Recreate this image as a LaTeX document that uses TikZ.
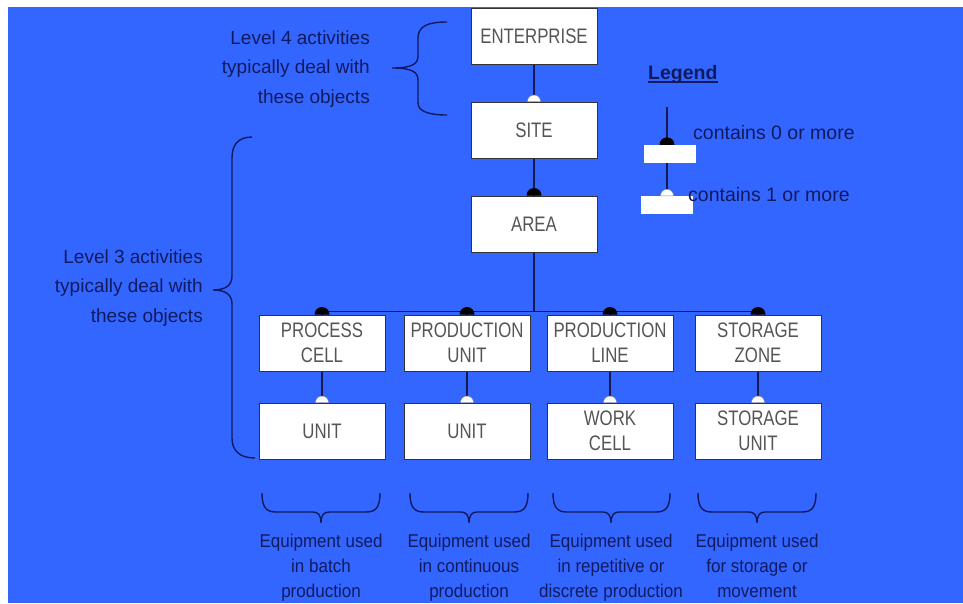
\documentclass[tikz,border=0pt]{standalone}
\usepackage{fontspec}
\setmainfont{Liberation Sans}
\newfontfamily\boxfont[FakeStretch=0.8]{Liberation Sans}
\newfontfamily\notefont[FakeStretch=0.92]{Liberation Sans}
\definecolor{bg}{RGB}{51,102,255}
\definecolor{ink}{RGB}{18,26,95}
\definecolor{boxtext}{RGB}{85,85,85}
\definecolor{wire}{RGB}{20,25,80}

\begin{document}
\begin{tikzpicture}[x=1pt,y=-1pt,
  obj/.style={draw=black!80, line width=1pt, fill=white, minimum width=126pt,
    minimum height=56pt, inner sep=0pt, align=center, text=boxtext,
    font=\boxfont\fontsize{21}{25}\selectfont},
  conn/.style={draw=wire, line width=1.6pt},
  bracepath/.style={draw=ink, line width=1.4pt},
  note/.style={text=ink, font=\fontsize{19}{29.5}\selectfont, align=right, inner sep=0pt},
  usage/.style={text=ink, font=\notefont\fontsize{18.5}{25}\selectfont, align=center, inner sep=0pt},
  legtext/.style={text=ink, font=\fontsize{19.5}{24}\selectfont, inner sep=0pt, anchor=west},
  legbox/.style={fill=white, minimum width=52pt, minimum height=18pt, inner sep=0pt},
  fulldot/.pic={\fill[black] (-7.5,0) arc[start angle=180,end angle=360,radius=7.5] -- cycle;},
  opendot/.pic={\filldraw[fill=white,draw=black!45,line width=0.4pt] (-6.5,0) arc[start angle=180,end angle=360,radius=6.5] -- cycle;},
]
% page and blue panel
\useasboundingbox (0,0) rectangle (963,603);
\fill[white] (0,0) rectangle (963,603);
\fill[bg] (8,7) rectangle (963,603);

% braces on the left
\draw[bracepath] (447,22) .. controls (428,22) and (418,26) .. (418,38) -- (418,56)
  .. controls (418,64) and (412,68) .. (392,68)
  .. controls (412,68) and (418,72) .. (418,80) -- (418,103)
  .. controls (418,111) and (428,115) .. (447,115);
\draw[bracepath] (252,137) .. controls (238,137) and (232,145) .. (232,158) -- (232,276)
  .. controls (232,285) and (226,290) .. (213,290)
  .. controls (226,290) and (232,295) .. (232,304) -- (232,438)
  .. controls (232,451) and (240,458) .. (255,458);

\node[note, anchor=east] (lvl4) at (370,69)
  {Level 4 activities\\typically deal with\hspace{7pt}\\these objects};
\node[note, anchor=east] (lvl3) at (203,288)
  {Level 3 activities\\typically deal with\hspace{6pt}\\these objects};

% braces under the columns
\foreach \a/\m/\b in {262/321/380, 410/469/528, 553/611/670, 698/757/816}{
  \draw[bracepath] (\a,493) .. controls (\a,507) and (\a+4,512) .. (\a+14,512)
    -- (\m-8,512) .. controls (\m-3,512) and (\m,515) .. (\m,523)
    .. controls (\m,515) and (\m+3,512) .. (\m+8,512)
    -- (\b-14,512) .. controls (\b-4,512) and (\b,507) .. (\b,493);
}
\node[usage] (use1) at (321,568) {Equipment used\\in batch\\production};
\node[usage] (use2) at (469,568) {Equipment used\\in continuous\\production};
\node[usage] (use3) at (611,568) {Equipment used\\in repetitive or\\discrete production};
\node[usage] (use4) at (757,568) {Equipment used\\for storage or\\movement\vphantom{p}};

% hierarchy boxes
\node[obj] (ent)  at (534,36)  {ENTERPRISE};
\node[obj] (site) at (534,130) {SITE};
\node[obj] (area) at (534,224) {AREA};
\node[obj] (pc) at (322,343) {PROCESS\\CELL};
\node[obj] (pu) at (467,343) {PRODUCTION\\UNIT};
\node[obj] (pl) at (610,343) {PRODUCTION\\LINE};
\node[obj] (sz) at (758,343) {STORAGE\\ZONE};
\node[obj] (u1) at (322,431) {UNIT};
\node[obj] (u2) at (467,431) {UNIT};
\node[obj] (u3) at (610,431) {WORK\\CELL};
\node[obj] (u4) at (758,431) {STORAGE\\UNIT};

% connectors
\draw[conn] (ent.south) -- (site.north);
\draw[conn] (site.south) -- (area.north);
\path (area.south) ++(0,59) coordinate (bus);
\draw[conn] (area.south) -- (bus);
\draw[conn] (pc.north) |- (bus) -| (sz.north);
\draw[conn] (pu.north) -- (pu.north |- bus);
\draw[conn] (pl.north) -- (pl.north |- bus);
\foreach \up/\dn in {pc/u1, pu/u2, pl/u3, sz/u4}{
  \draw[conn] (\up.south) -- (\dn.north);
}

% cardinality marks
\path (site.north) pic{opendot};
\path (area.north) pic{fulldot};
\foreach \n in {pc,pu,pl,sz}{ \path (\n.north) pic{fulldot}; }
\foreach \n in {u1,u2,u3,u4}{ \path (\n.north) pic{opendot}; }

% legend
\node[anchor=base west, inner sep=0pt, text=ink, font=\bfseries\fontsize{19.5}{24}\selectfont]
  (legend) at (648,79) {Legend};
\draw[ink, line width=1.2pt] ([yshift=-3pt]legend.base west) -- ([yshift=-3pt]legend.base east);
\coordinate (legtop) at (667,107);
\node[legbox] (lb1) at (670,154) {};
\node[legbox] (lb2) at (667,205) {};
\draw[conn] (legtop) -- (legtop |- lb1.north);
\draw[conn] (lb1.south -| legtop) -- (lb2.north);
\path (legtop |- lb1.north) pic{fulldot};
\path (lb2.north) pic{opendot};
\node[legtext] (leg0) at (693,133) {contains 0 or more};
\node[legtext] (leg1) at (688,195) {contains 1 or more};
\end{tikzpicture}
\end{document}
